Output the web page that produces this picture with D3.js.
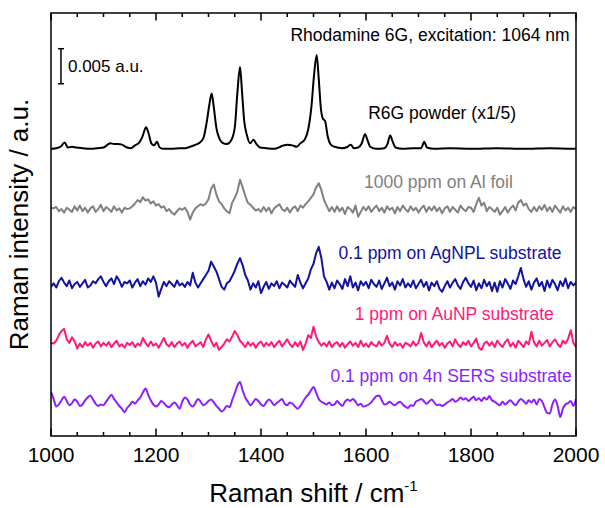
<!DOCTYPE html>
<html>
<head>
<meta charset="utf-8">
<script src="https://cdn.jsdelivr.net/npm/d3@7"></script>
<style>
  body { margin: 0; background: #fff; }
  text { font-family: "Liberation Sans", Arial, sans-serif; }
</style>
</head>
<body>
<svg id="chart" width="605" height="508"></svg>
<script>
// Raman spectra of Rhodamine 6G, 1064 nm excitation.
// Intensities are in units of 1e-4 a.u.; each trace is shifted by its own offset.

// R6G powder (already scaled x1/5): sampled at irregular shifts
const powderShift = [1000,1010,1018,1026,1032,1040,1048,1060,1075,1090,1100,1108,1113,1120,1128,1135,1145,1152,1160,1168,1174,1181,1186,1191,1196,1202,1207,1215,1230,1245,1255,1265,1276,1285,1291,1297,1302,1306,1310,1315,1320,1326,1335,1343,1350,1355,1360,1364,1368,1373,1379,1386,1391,1398,1410,1425,1440,1450,1460,1468,1475,1483,1490,1496,1501,1506,1510,1514,1518,1522,1527,1533,1540,1555,1565,1571,1577,1585,1592,1598,1603,1608,1620,1635,1641,1646,1651,1656,1670,1690,1705,1711,1716,1730,1760,1800,1850,1900,1950,2000];
const powderIntensity = [0,1,3,9,2,3,2,1,0,1,2,6,8,7,7,6,2,1,5,9,17,31,22,8,5,10,2,0,0,1,1,3,6,10,17,40,65,79,60,30,16,9,7,12,30,80,117,80,40,20,8,13,7,2,1,0,4,6,5,3,8,13,28,60,105,134,100,58,43,40,18,6,3,1,3,6,1,2,8,21,12,3,0,1,7,19,10,2,0,1,1,10,2,0,1,0,1,0,1,0];

// Noisy spectra share a uniform grid of 5 cm-1 from 1000 to 2000
const gridStart = 1000, gridStep = 5;

const alFoil = [
  3,2,4,-2,1,-4,3,0,-3,5,
  -1,6,-2,3,-4,2,5,-3,1,7,
  -2,4,1,-3,5,-1,2,-4,3,1,
  2,5,9,14,11,18,13,15,9,12,
  6,8,3,5,-2,1,-4,-7,-2,2,
  0,3,-3,-14,-4,2,5,8,6,9,
  15,30,36,22,12,8,2,-2,-5,10,
  17,26,43,32,20,10,7,3,-1,1,
  -3,4,-2,3,-5,2,5,8,1,-2,
  3,-4,2,5,-2,6,3,8,12,17,
  22,32,38,28,14,6,-2,4,-3,5,
  -2,3,-6,4,1,-4,6,-10,-3,4,
  -1,5,-3,2,6,-2,3,-4,5,0,
  3,-5,4,-2,6,1,-3,5,-1,3,
  -4,2,6,-3,4,-1,5,-2,3,-5,
  2,5,-3,4,0,-4,6,1,-2,4,
  3,-3,8,17,6,10,-2,4,1,-3,
  3,-7,-2,4,-4,2,6,-1,10,14,
  6,9,1,-3,4,-2,5,0,7,-2,
  4,-3,6,1,-4,5,-1,3,-3,4,
  1];

const agnpl = [
  -3,2,-4,5,10,3,-2,6,-5,1,
  4,-3,2,7,-4,-1,5,2,8,12,
  4,-2,5,9,1,12,6,-3,4,2,
  6,-4,3,8,-2,5,0,9,4,12,
  3,-17,-6,4,-2,5,1,-3,6,-1,
  2,-3,4,-1,17,3,-4,2,8,14,
  20,33,26,19,8,-3,-7,2,5,12,
  20,30,38,28,14,6,-7,2,-4,5,
  -12,-3,4,-6,2,-2,5,-5,3,0,
  -4,6,1,-3,14,3,-5,2,9,22,
  30,45,54,38,12,4,-7,3,-5,6,
  1,-6,8,-2,12,-4,3,-8,5,-1,
  4,-5,7,1,-3,6,-6,2,10,-2,
  3,-7,5,-1,8,-4,2,-3,6,-5,
  1,7,-3,4,-8,3,-2,5,-6,-10,
  -2,5,-4,3,8,-1,-6,4,10,2,
  -3,6,-8,2,-5,7,-2,4,-9,3,
  -10,5,-4,8,2,-6,6,1,12,24,
  8,-3,5,-7,3,9,-2,4,-9,6,
  -4,7,1,-8,5,-2,9,-5,4,-1,
  3];

const aunp = [
  3,2,6,14,20,23,8,3,11,5,
  -5,2,-3,4,-1,3,-4,2,5,-2,
  3,-1,4,-3,2,6,-2,1,-4,3,
  0,4,-3,2,-1,10,3,-2,5,-1,
  2,-4,3,10,1,-2,4,-3,2,5,
  -1,3,-4,2,6,-2,1,4,-3,8,
  15,6,-2,3,-7,-3,2,8,5,12,
  20,14,6,2,-3,4,-1,3,-4,2,
  5,-2,3,-1,4,-3,2,6,-2,3,
  8,1,-3,4,-2,5,-7,2,14,10,
  26,12,4,-1,3,-2,5,-3,2,4,
  -2,3,-4,1,5,-1,3,-3,6,-2,
  2,-3,4,0,-2,5,-1,3,13,2,
  -3,4,-1,2,-4,3,1,-2,5,-1,
  3,17,4,-2,5,-3,2,6,-1,3,
  -4,2,5,-2,8,1,-3,4,0,6,
  -2,3,9,-4,-7,2,5,-1,4,-3,
  6,1,-3,4,8,-2,3,-4,6,2,
  -3,5,1,19,4,-2,6,-1,3,7,
  -2,4,8,1,-3,6,2,9,21,3,
  -3];

const sers4n = [
  16,6,-5,-2,4,9,3,-3,0,5,
  2,-4,-2,4,8,11,5,-1,-4,-2,
  -3,2,7,12,6,1,-4,-8,-13,-7,
  -3,2,-1,4,8,15,21,12,4,-2,
  -5,-2,3,0,-4,-6,-2,1,-3,-8,
  2,8,5,-2,-5,0,6,2,-3,-1,
  3,5,1,-4,-8,-12,-9,-4,-6,4,
  14,25,30,18,8,2,-3,1,6,3,
  -2,-4,1,5,2,-3,0,3,6,-1,
  -3,1,-1,-5,-8,-4,2,8,12,18,
  23,15,6,2,0,-2,1,-3,-2,3,
  -1,-4,2,5,3,6,2,-3,-1,-5,
  -4,-2,1,6,10,11,4,-2,-1,2,
  -1,-3,0,2,-2,-5,-7,-3,-4,2,
  4,6,3,-1,2,5,1,-3,-2,-4,
  -2,1,3,6,2,4,8,5,7,3,
  6,9,4,7,3,8,5,10,4,2,
  -1,-3,2,-2,1,4,0,-3,2,6,
  3,-1,4,1,5,-2,6,3,-6,-14,
  -15,-2,5,-4,-20,-8,-2,0,3,-4,
  6];

// Vertical offsets of each trace (1e-4 a.u.)
const traceOffsets = { powder: 410, alFoil: 323, agnpl: 216, aunp: 130, sers4n: 47 };

const traceLabels = ["R6G powder (x1/5)", "1000 ppm on Al foil", "0.1 ppm on AgNPL substrate",
                     "1 ppm on AuNP substrate", "0.1 ppm on 4n SERS substrate"];
const traceColors = ["#000000", "#808080", "#1212a0", "#ff1a7a", "#8c1eff"];

const xTicks = [1000, 1200, 1400, 1600, 1800, 2000];
const scaleBarValue = 50; // 0.005 a.u.

const svg = d3.select("#chart");
const W = 605, H = 508;
const margin = { left: 51, right: W - 576, top: 13, bottom: H - 436 };

const x = d3.scaleLinear().domain([1000, 2000]).range([margin.left, W - margin.right]);
const y = d3.scaleLinear().domain([0, 604]).range([H - margin.bottom, margin.top]);

svg.append("clipPath").attr("id", "plotClip")
  .append("rect").attr("x", x(1000)).attr("y", y(604))
  .attr("width", x(2000) - x(1000)).attr("height", y(0) - y(604));

const plot = svg.append("g").attr("clip-path", "url(#plotClip)");

function gridSeries(values, offset) {
  return values.map((v, i) => [gridStart + i * gridStep, v + offset]);
}

const series = [
  { pts: powderShift.map((s, i) => [s, powderIntensity[i] + traceOffsets.powder]), curve: d3.curveMonotoneX },
  { pts: gridSeries(alFoil, traceOffsets.alFoil), curve: d3.curveLinear },
  { pts: gridSeries(agnpl, traceOffsets.agnpl), curve: d3.curveLinear },
  { pts: gridSeries(aunp, traceOffsets.aunp), curve: d3.curveLinear },
  { pts: gridSeries(sers4n, traceOffsets.sers4n), curve: d3.curveMonotoneX }
];

series.forEach((s, i) => {
  const line = d3.line().x(d => x(d[0])).y(d => y(d[1])).curve(s.curve);
  plot.append("path").datum(s.pts)
    .attr("fill", "none")
    .attr("stroke", traceColors[i])
    .attr("stroke-width", 2)
    .attr("stroke-linejoin", "round")
    .attr("d", line);
});

// Trace labels: [shift, intensity] anchor for the label centre baseline
const labelAnchors = [[1745, 452], [1738, 354], [1760, 253], [1768, 166], [1762, 77]];
traceLabels.forEach((t, i) => {
  svg.append("text")
    .attr("x", x(labelAnchors[i][0]))
    .attr("y", y(labelAnchors[i][1]))
    .attr("text-anchor", "middle")
    .attr("font-size", "17.5px")
    .attr("fill", traceColors[i])
    .text(t);
});

// Title
svg.append("text")
  .attr("x", x(1988)).attr("y", y(564))
  .attr("text-anchor", "end")
  .attr("font-size", "17.5px")
  .attr("fill", "#000")
  .text("Rhodamine 6G, excitation: 1064 nm");

// Intensity scale bar
const barX = x(1019), barTop = y(553), barBot = y(553 - scaleBarValue);
const bar = svg.append("g").attr("stroke", "#000").attr("stroke-width", 1.5);
bar.append("line").attr("x1", barX).attr("x2", barX).attr("y1", barTop).attr("y2", barBot);
bar.append("line").attr("x1", barX - 3).attr("x2", barX + 3).attr("y1", barTop).attr("y2", barTop);
bar.append("line").attr("x1", barX - 3).attr("x2", barX + 3).attr("y1", barBot).attr("y2", barBot);
svg.append("text")
  .attr("x", barX + 7).attr("y", (barTop + barBot) / 2 + 6)
  .attr("font-size", "17px")
  .text("0.005 a.u.");

// Inward ticks on the bottom and top edges
const minorTicks = [1100, 1300, 1500, 1700, 1900, 1050, 1150, 1250, 1350, 1450, 1550, 1650, 1750, 1850, 1950];
function drawTicks(g, edge, dir) {
  g.selectAll("line.maj").data(xTicks).join("line").attr("class", "maj")
    .attr("x1", d => x(d)).attr("x2", d => x(d))
    .attr("y1", edge).attr("y2", edge + dir * 7.5)
    .attr("stroke", "#000").attr("stroke-width", 1.5);
  g.selectAll("line.min").data(minorTicks).join("line").attr("class", "min")
    .attr("x1", d => x(d)).attr("x2", d => x(d))
    .attr("y1", edge).attr("y2", edge + dir * 4)
    .attr("stroke", "#000").attr("stroke-width", 1.5);
}
drawTicks(svg.append("g"), y(0), -1);
drawTicks(svg.append("g"), y(604), 1);

// Frame
svg.append("rect")
  .attr("x", x(1000)).attr("y", y(604))
  .attr("width", x(2000) - x(1000)).attr("height", y(0) - y(604))
  .attr("fill", "none").attr("stroke", "#000").attr("stroke-width", 1.5);

// Tick labels
svg.append("g").selectAll("text").data(xTicks).join("text")
  .attr("x", d => x(d)).attr("y", y(0) + 26)
  .attr("text-anchor", "middle")
  .attr("font-size", "21px")
  .text(d => d);

// Axis titles
const xTitle = svg.append("text")
  .attr("x", (x(1000) + x(2000)) / 2).attr("y", 502)
  .attr("text-anchor", "middle")
  .attr("font-size", "26px");
xTitle.append("tspan").text("Raman shift / cm");
xTitle.append("tspan").attr("font-size", "15px").attr("dy", "-11").text("-1");

svg.append("text")
  .attr("transform", `translate(28,${(y(0) + y(604)) / 2}) rotate(-90)`)
  .attr("text-anchor", "middle")
  .attr("font-size", "26px")
  .text("Raman intensity / a.u.");
</script>
</body>
</html>
